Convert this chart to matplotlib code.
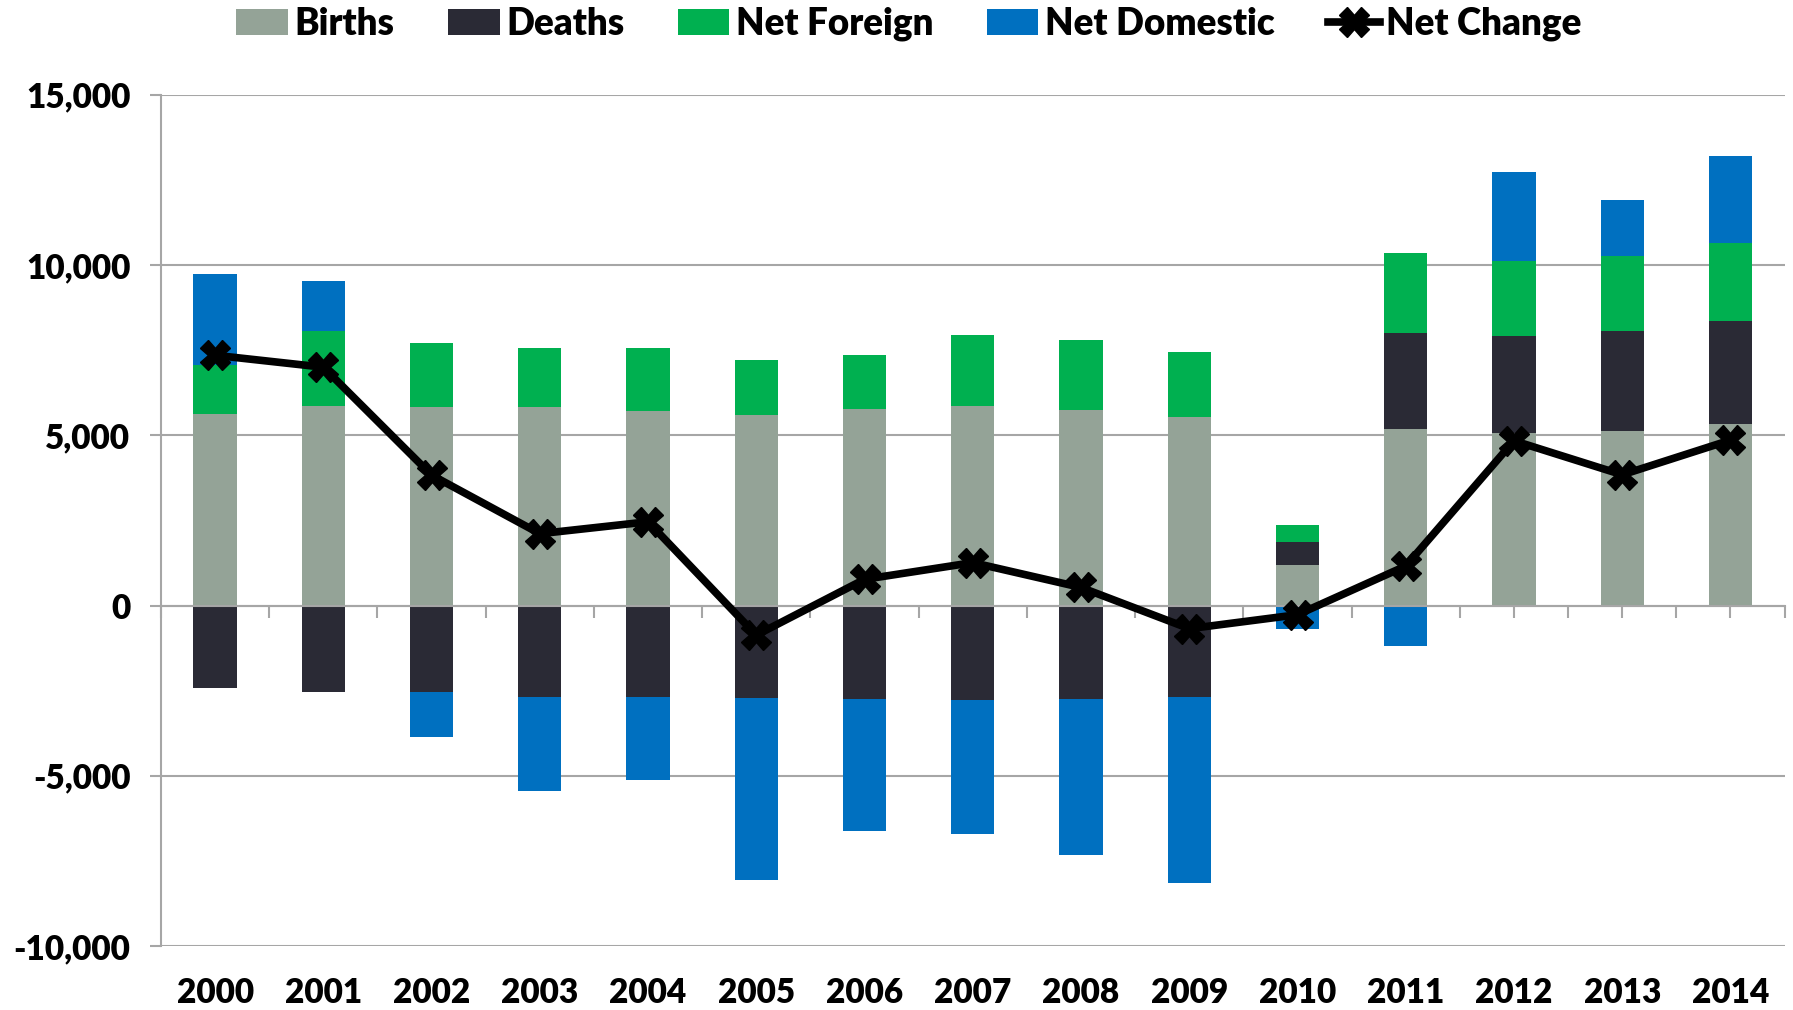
#!/usr/bin/env python3
"""Components of population change, 2000-2014, stacked bars with net change line.

Creates out.png
"""

import numpy as np
import matplotlib
matplotlib.use("Agg")
import matplotlib.pyplot as plt
from matplotlib.ticker import FuncFormatter, FixedLocator
from matplotlib.lines import Line2D
from matplotlib.patches import Patch

years = ["2000", "2001", "2002", "2003", "2004", "2005", "2006", "2007",
         "2008", "2009", "2010", "2011", "2012", "2013", "2014"]
births = [5620, 5850, 5820, 5830, 5720, 5590, 5770, 5860, 5730, 5540,
          1180, 5180, 5070, 5130, 5330]
deaths = [-2410, -2540, -2540, -2690, -2690, -2720, -2760, -2770, -2760, -2690,
          700, 2820, 2850, 2930, 3020]
net_foreign = [1430, 2220, 1880, 1720, 1840, 1630, 1580, 2100, 2080, 1900,
               490, 2350, 2210, 2220, 2290]
net_domestic = [2700, 1450, -1320, -2760, -2440, -5350, -3850, -3930, -4560, -5460,
                -700, -1190, 2600, 1620, 2570]
net_change = [7350, 7000, 3830, 2110, 2460, -870, 770, 1260, 530, -680,
              -270, 1160, 4840, 3840, 4860]

series = [("Births", births, "#94A397"),
          ("Deaths", deaths, "#2A2A35"),
          ("Net Foreign", net_foreign, "#00B050"),
          ("Net Domestic", net_domestic, "#0070C0")]

plt.rcParams['font.family'] = ['Lato', 'DejaVu Sans']
plt.rcParams['font.weight'] = 'heavy'

grid_color = "#A6A6A6"
fs = 24

fig = plt.figure(figsize=(17.93, 10.10), dpi=100)
ax = fig.add_axes([0.0898, 0.0634, 0.9055, 0.8427])

x = np.arange(len(years))
pos_bottom = np.zeros(len(years))
neg_bottom = np.zeros(len(years))
for name, values, color in series:
    vals = np.array(values, dtype=float)
    bottoms = np.where(vals >= 0, pos_bottom, neg_bottom)
    ax.bar(x, vals, width=0.4, bottom=bottoms, color=color, zorder=3,
           linewidth=0)
    pos_bottom += np.where(vals >= 0, vals, 0)
    neg_bottom += np.where(vals < 0, vals, 0)

ax.plot(x, net_change, color="black", linewidth=5.5, marker="X",
        markersize=21, zorder=5)

ax.set_xlim(-0.5, len(years) - 0.5)
ax.set_ylim(-10000, 15000)
ax.set_yticks(np.arange(-10000, 15001, 5000))
ax.yaxis.set_major_formatter(FuncFormatter(lambda v, p: "{:,.0f}".format(v)))
ax.grid(axis='y', color=grid_color, linewidth=1.5, zorder=0)
ax.tick_params(axis='y', length=8, width=1.5, color=grid_color, pad=14,
               labelsize=fs)

for side in ('top', 'right'):
    ax.spines[side].set_visible(False)
ax.spines['left'].set_color(grid_color)
ax.spines['left'].set_linewidth(1.5)
ax.spines['bottom'].set_position(('data', 0))
ax.spines['bottom'].set_color(grid_color)
ax.spines['bottom'].set_linewidth(1.5)
ax.spines['bottom'].set_zorder(4)

# tick marks on the zero line at centres and between categories
ax.xaxis.set_major_locator(FixedLocator(np.arange(-0.5, len(years), 0.5)))
ax.tick_params(axis='x', length=8.5, width=1.5, color=grid_color,
               labelbottom=False)

# year labels along the bottom of the plot
sec = ax.secondary_xaxis('bottom')
sec.set_xticks(x)
sec.set_xticklabels(years)
sec.tick_params(length=0, pad=22, labelsize=fs)
sec.spines['bottom'].set_visible(False)

handles = [Patch(facecolor=c, label=n) for n, _, c in series]
handles.append(Line2D([0], [0], color="black", linewidth=5.5, marker="X",
                      markersize=21, label="Net Change"))
fig.legend(handles=handles, loc="center", bbox_to_anchor=(0.507, 0.976),
           ncol=5, frameon=False, fontsize=26.5, handlelength=1.4,
           handleheight=0.7, handletextpad=0.18, columnspacing=1.45)

fig.savefig("out.png", dpi=100)
plt.close(fig)
